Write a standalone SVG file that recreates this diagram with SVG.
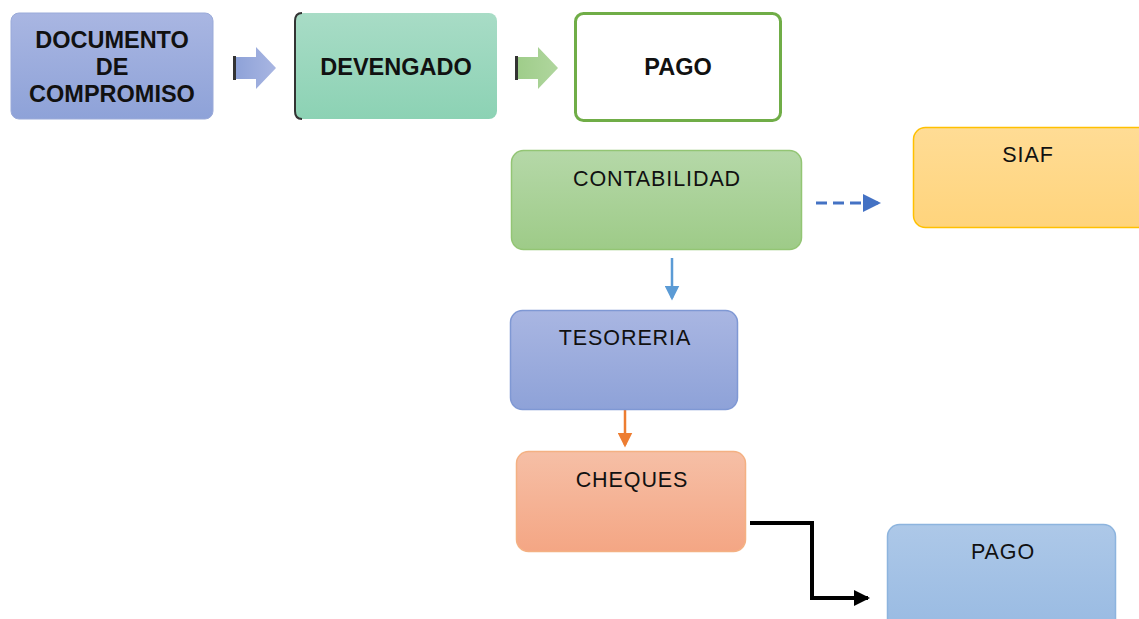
<svg xmlns="http://www.w3.org/2000/svg" width="1139" height="619" viewBox="0 0 1139 619">
<defs>
<linearGradient id="gBlue" x1="0" y1="0" x2="0" y2="1"><stop offset="0" stop-color="#a9b6e2"/><stop offset="1" stop-color="#8ea2d8"/></linearGradient>
<linearGradient id="gTeal" x1="0" y1="0" x2="0" y2="1"><stop offset="0" stop-color="#a8dcc6"/><stop offset="1" stop-color="#8cd2b4"/></linearGradient>
<linearGradient id="gGreen" x1="0" y1="0" x2="0" y2="1"><stop offset="0" stop-color="#b5d8a8"/><stop offset="1" stop-color="#9ecb88"/></linearGradient>
<linearGradient id="gYellow" x1="0" y1="0" x2="0" y2="1"><stop offset="0" stop-color="#ffdc95"/><stop offset="1" stop-color="#ffd47c"/></linearGradient>
<linearGradient id="gOrange" x1="0" y1="0" x2="0" y2="1"><stop offset="0" stop-color="#f6bfa6"/><stop offset="1" stop-color="#f4a684"/></linearGradient>
<linearGradient id="gSky" x1="0" y1="0" x2="0" y2="1"><stop offset="0" stop-color="#adc8e8"/><stop offset="1" stop-color="#98bae2"/></linearGradient>
<linearGradient id="gArrBlue" x1="0" y1="0" x2="1" y2="0"><stop offset="0" stop-color="#8ea2d8"/><stop offset="1" stop-color="#a9b6e2"/></linearGradient>
<linearGradient id="gArrGreen" x1="0" y1="0" x2="1" y2="0"><stop offset="0" stop-color="#9fcd8a"/><stop offset="1" stop-color="#b0d69e"/></linearGradient>
<marker id="mBlueDash" markerWidth="6" markerHeight="6" refX="5" refY="3" orient="auto" markerUnits="strokeWidth"><path d="M0,0 L6,3 L0,6 z" fill="#4472c4"/></marker>
<marker id="mSky" markerWidth="6" markerHeight="6" refX="5" refY="3" orient="auto" markerUnits="strokeWidth"><path d="M0,0 L6,3 L0,6 z" fill="#5b9bd5"/></marker>
<marker id="mOrange" markerWidth="6" markerHeight="6" refX="5" refY="3" orient="auto" markerUnits="strokeWidth"><path d="M0,0 L6,3 L0,6 z" fill="#ed7d31"/></marker>
<marker id="mBlack" markerWidth="4" markerHeight="4" refX="3.5" refY="2" orient="auto" markerUnits="strokeWidth"><path d="M0,0 L4,2 L0,4 z" fill="#000"/></marker>
</defs>
<style>
.bold{font-family:"Liberation Sans",Arial,sans-serif;font-weight:bold;font-size:23.5px;fill:#111;text-anchor:middle}
.reg{font-family:"Liberation Sans",Arial,sans-serif;font-size:21.5px;letter-spacing:0.9px;fill:#111;text-anchor:middle}
</style>
<rect width="1139" height="619" fill="#fff"/>
<g id="connectors">
<g id="arrow1"><rect x="233" y="56" width="3" height="24" fill="#333"/><path d="M236,57 H256 V47 L276,68 L256,89 V79 H236 z" fill="url(#gArrBlue)"/></g>
<g id="arrow2"><rect x="515" y="56" width="3" height="24" fill="#333"/><path d="M518,57 H538 V47 L558,68 L538,89 V79 H518 z" fill="url(#gArrGreen)"/></g>
<line x1="816" y1="203" x2="878" y2="203" stroke="#4472c4" stroke-width="3" stroke-dasharray="11,6" marker-end="url(#mBlueDash)"/>
<line x1="672" y1="258" x2="672" y2="298" stroke="#5b9bd5" stroke-width="2.5" marker-end="url(#mSky)"/>
<line x1="625" y1="406" x2="625" y2="445" stroke="#ed7d31" stroke-width="2.5" marker-end="url(#mOrange)"/>
<polyline points="750,523 812,523 812,598 868,598" fill="none" stroke="#000" stroke-width="4" marker-end="url(#mBlack)"/>
</g>
<g id="node-documento">
<rect x="11" y="13" width="202" height="106" rx="8" fill="url(#gBlue)" stroke="#9aaad9" stroke-width="1"/>
<text class="bold" x="112" y="48">DOCUMENTO</text>
<text class="bold" x="112" y="75">DE</text>
<text class="bold" x="112" y="102">COMPROMISO</text>
</g>
<g id="node-devengado">
<rect x="294" y="13" width="203" height="106" rx="8" fill="url(#gTeal)"/>
<path d="M302,13 Q295,13 295,21 V111 Q295,119 302,119" fill="none" stroke="#333" stroke-width="2"/>
<text class="bold" x="396" y="75">DEVENGADO</text>
</g>
<g id="node-pago1">
<rect x="575.5" y="13.5" width="205" height="107" rx="8" fill="#fff" stroke="#70ad47" stroke-width="3"/>
<text class="bold" x="678" y="75">PAGO</text>
</g>
<g id="node-contabilidad">
<rect x="511.5" y="150.5" width="290" height="99" rx="12" fill="url(#gGreen)" stroke="#93c574" stroke-width="1.5"/>
<text class="reg" x="657" y="186">CONTABILIDAD</text>
</g>
<g id="node-siaf">
<rect x="913.5" y="127.5" width="240" height="100" rx="12" fill="url(#gYellow)" stroke="#ffc000" stroke-width="1.5"/>
<text class="reg" x="1028" y="162">SIAF</text>
</g>
<g id="node-tesoreria">
<rect x="510.5" y="310.5" width="227" height="99" rx="12" fill="url(#gBlue)" stroke="#7f98d4" stroke-width="1.5"/>
<text class="reg" x="625" y="345">TESORERIA</text>
</g>
<g id="node-cheques">
<rect x="516.5" y="451.5" width="229" height="100" rx="12" fill="url(#gOrange)" stroke="#f4b183" stroke-width="1.5"/>
<text class="reg" x="632" y="487">CHEQUES</text>
</g>
<g id="node-pago2">
<rect x="887.5" y="524.5" width="228" height="110" rx="12" fill="url(#gSky)" stroke="#8db4de" stroke-width="1.5"/>
<text class="reg" x="1003" y="559">PAGO</text>
</g>
</svg>
